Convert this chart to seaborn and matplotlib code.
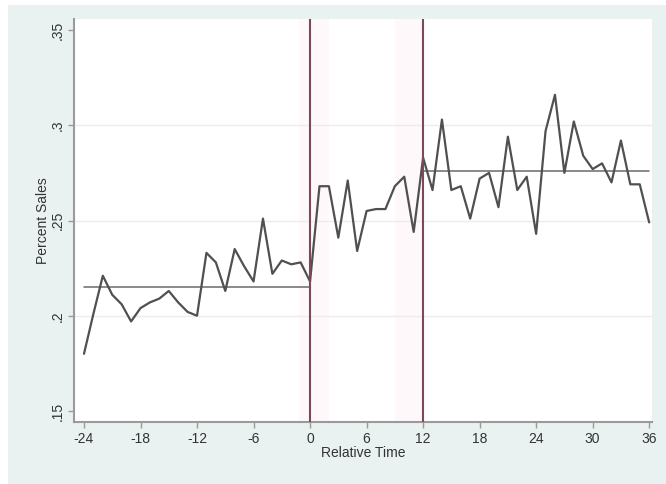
import numpy as np
import pandas as pd
import matplotlib
matplotlib.use("Agg")
import matplotlib.pyplot as plt
import seaborn as sns
from matplotlib.patches import Rectangle

# ---- data ----
rel_time = list(range(-24, 37))
pct_sales = [0.180, 0.201, 0.221, 0.211, 0.206, 0.197, 0.204, 0.207, 0.209, 0.213,
             0.207, 0.202, 0.200, 0.233, 0.228, 0.213, 0.235, 0.226, 0.218, 0.251,
             0.222, 0.229, 0.227, 0.228, 0.218,
             0.268, 0.268, 0.241, 0.271, 0.234, 0.255, 0.256, 0.256, 0.268, 0.273,
             0.244, 0.283, 0.266, 0.303, 0.266, 0.268, 0.251, 0.272, 0.275, 0.257,
             0.294, 0.266, 0.273, 0.243, 0.297, 0.316, 0.275, 0.302, 0.284, 0.277,
             0.280, 0.270, 0.292, 0.269, 0.269, 0.249]
pre_mean_span = [-24, 0]
pre_mean = 0.2152
post_mean_span = [12, 36]
post_mean = 0.2758
event_lines = [0, 12]
x_ticks = [-24, -18, -12, -6, 0, 6, 12, 18, 24, 30, 36]
y_ticks = [0.15, 0.2, 0.25, 0.3, 0.35]
y_tick_labels = [".15", ".2", ".25", ".3", ".35"]

df = pd.DataFrame({"Relative Time": rel_time, "Percent Sales": pct_sales})

sns.set_theme(style="white")
plt.rcParams["font.family"] = ["Liberation Sans", "DejaVu Sans"]

fig = plt.figure(figsize=(6.66, 4.84), dpi=100)
fig.patch.set_facecolor("white")
bg = Rectangle((8 / 666, 0), 1 - 8 / 666, 1 - 5 / 484, transform=fig.transFigure,
               facecolor="#e9f2f0", edgecolor="none", zorder=-10)
fig.patches.append(bg)

ax = fig.add_axes([74 / 666, 62 / 484, (652 - 74) / 666, (422 - 19) / 484])
ax.set_zorder(1)
ax.set_facecolor("white")

# very faint pink halo around event lines (as in reference)
ax.axvspan(-1.2, 2.0, color="#fef8fa", lw=0, zorder=0)
ax.axvspan(9.0, 12.0, color="#fef8fa", lw=0, zorder=0)

for yv in [0.2, 0.25, 0.3]:
    ax.axhline(yv, color="#ececec", lw=1.0, zorder=1)

sns.lineplot(data=df, x="Relative Time", y="Percent Sales", ax=ax,
             color="#505050", lw=1.6, zorder=3)

ax.plot(pre_mean_span, [pre_mean, pre_mean], color="#6a6a6a", lw=1.1, zorder=2)
ax.plot(post_mean_span, [post_mean, post_mean], color="#6a6a6a", lw=1.1, zorder=2)

for xv in event_lines:
    ax.axvline(xv, color="#7a4a5a", lw=1.5, zorder=4)

ax.set_xlim(-25.06, 36.3)
ax.set_ylim(0.1442, 0.3558)
ax.set_xticks(x_ticks)
ax.set_xticklabels([str(v) for v in x_ticks], fontsize=10, color="#333333")
ax.set_yticks(y_ticks)
ax.set_yticklabels(y_tick_labels, fontsize=10, color="#333333", rotation=90, va="center")

ax.tick_params(axis="both", which="both", direction="out", length=4, width=1,
               color="#9a9a9a", pad=3)
ax.tick_params(axis="x", bottom=True)
ax.tick_params(axis="y", left=True)

for s in ["top", "right"]:
    ax.spines[s].set_visible(False)
for s in ["left", "bottom"]:
    ax.spines[s].set_color("#9a9a9a")
    ax.spines[s].set_linewidth(1.5)

ax.set_xlabel("Relative Time", fontsize=10, color="#333333", labelpad=0)
ax.set_ylabel("Percent Sales", fontsize=10, color="#333333", labelpad=0)

fig.savefig("out.png", dpi=100, facecolor=fig.get_facecolor())
